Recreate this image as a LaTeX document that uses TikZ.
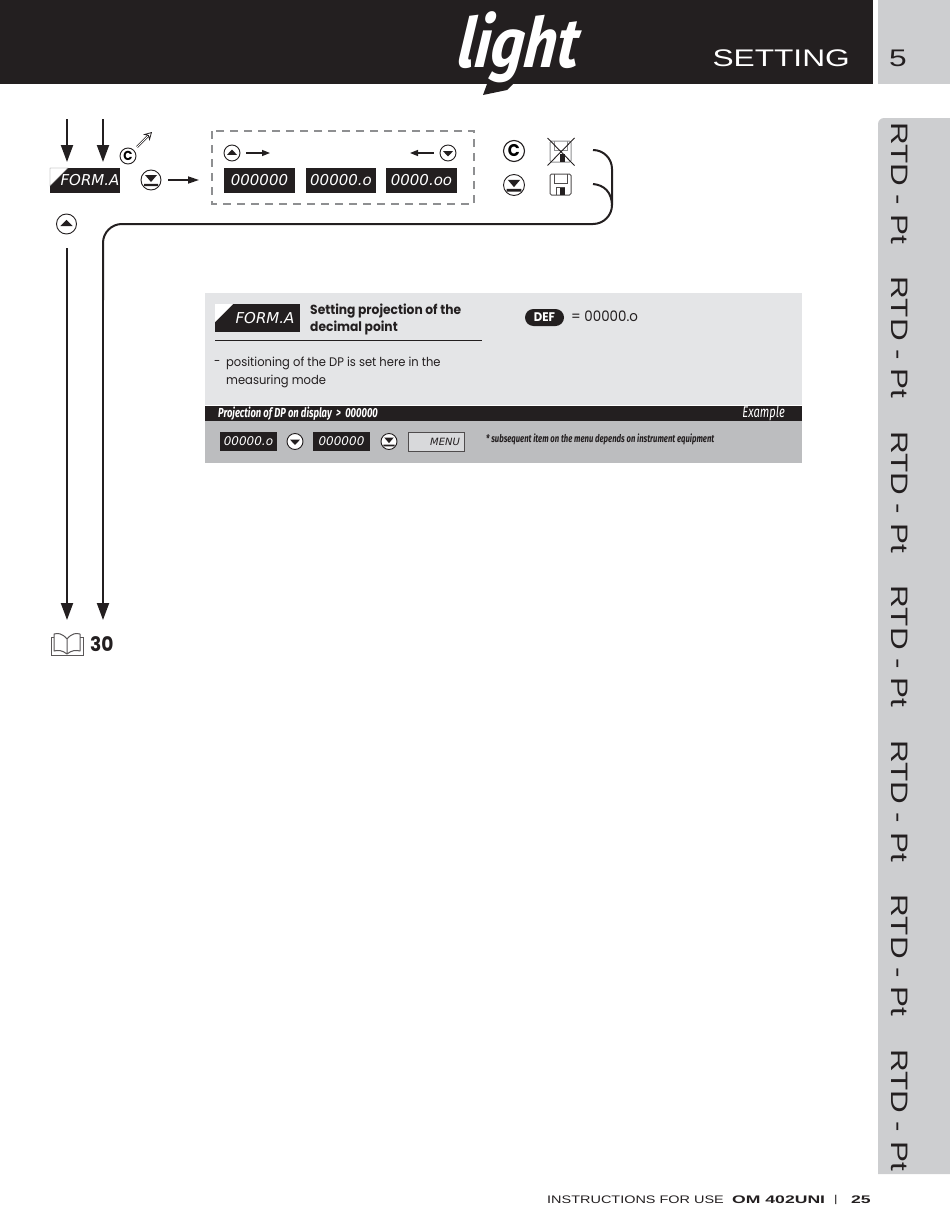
\documentclass[tikz,border=0pt]{standalone}
\usepackage{xcolor}
\usepackage{fontspec}
\usepackage{tikz}
\usetikzlibrary{arrows.meta,positioning,calc}
\setmainfont[FakeStretch=0.93]{Poppins}
\newfontfamily\widefont[FakeStretch=1.32]{Liberation Sans}
\newfontfamily\extrafont[FakeStretch=1.6]{Liberation Sans}
\newfontfamily\lcdfont{DejaVu Sans}
\newfontfamily\narrowfont[FakeStretch=0.72]{Fira Sans}
\newfontfamily\logofont[FakeStretch=0.84,FakeSlant=0.12]{Fira Sans}
\definecolor{lkblack}{HTML}{231F20}
\definecolor{lkpanel}{HTML}{E4E5E7}
\definecolor{lkstrip}{HTML}{BCBDBF}
\definecolor{lktab}{HTML}{CDCED0}
\definecolor{lkdash}{HTML}{8E8F91}
\tikzset{
  flow/.style={draw=lkblack,line width=2pt,-{Triangle[length=17pt,width=12pt]}},
  shortflow/.style={draw=lkblack,line width=1.4pt,-{Triangle[length=8pt,width=6pt]}},
  bus/.style={draw=lkblack,line width=2pt,rounded corners=19pt},
  lcd/.style={fill=lkblack,text=white,inner sep=0pt,minimum width=#1,minimum height=25pt,font=\lcdfont\itshape\fontsize{15}{15}\selectfont},
  lcdsmall/.style={fill=lkblack,text=white,inner sep=0pt,minimum width=57pt,minimum height=19pt,font=\lcdfont\itshape\fontsize{12}{12}\selectfont},
  btn/.style={circle,draw=lkblack,fill=white,line width=0.9pt,inner sep=0pt,minimum size=2*#1},
  btnup/.style={btn=#1,path picture={\fill[lkblack,shift={(path picture bounding box.center)},x=#1pt,y=-#1pt]
      (-.62,.22) -- (0,-.42) -- (.62,.22) -- cycle;}},
  btndown/.style={btn=#1,path picture={\fill[lkblack,shift={(path picture bounding box.center)},x=#1pt,y=-#1pt]
      (-.62,-.22) -- (0,.42) -- (.62,-.22) -- cycle;}},
  btnenter/.style={btn=#1,path picture={\fill[lkblack,shift={(path picture bounding box.center)},x=#1pt,y=-#1pt]
      (-.6,-.5) -- (.6,-.5) -- (0,.2) -- cycle (-.7,.38) rectangle (.7,.62);}},
  btnsmallc/.style={btn=8,font=\bfseries\fontsize{13}{13}\selectfont},
  btnbigc/.style={btn=10.5,line width=1.1pt,font=\bfseries\fontsize{17}{17}\selectfont},
  plain/.style={text=lkblack,inner sep=0pt,anchor=west},
  corner/.style={fill=white,draw=lkblack!60,line width=0.4pt},
}
\begin{document}
\begin{tikzpicture}[x=1pt,y=-1pt]
\useasboundingbox (0,0) rectangle (950,1231);
\fill[lkblack] (0,0) rectangle (873,84);
\fill[lktab] (878,0) rectangle (950,84);
\fill[lktab] (950,118) -- (884,118) to[out=180,in=90] (878,124) -- (878,1174) -- (950,1174) -- cycle;
\fill[lkblack] (487,84) -- (483,95) -- (507,90) -- (513,84) -- cycle;
\node[text=white,inner sep=0pt,font=\logofont\bfseries\itshape\fontsize{69}{69}\selectfont] (logo) at (517,47) {light};
\node[text=white,inner sep=0pt,anchor=east,font=\widefont\fontsize{24}{24}\selectfont] (title) at (850,58) {SETTING};
\node[text=lkblack,inner sep=0pt,font=\widefont\fontsize{24}{24}\selectfont] (chapter) at (898,58) {5};
\foreach \k in {0,...,6} {
  \node[text=lkblack,inner sep=0pt,rotate=-90,anchor=west,font=\widefont\fontsize{23.8}{23.8}\selectfont] (tab\k) at (900,122+154.5*\k) {RTD - Pt};
}

\coordinate (inleft) at (67,119);
\coordinate (inright) at (103,119);
\coordinate (inlefttip) at (67,162);
\coordinate (inrighttip) at (103,162);
\draw[flow] (inleft) -- (inlefttip);
\draw[flow] (inright) -- (inrighttip);

\node[lcd=70pt] (form) at (85,180.5) {\hspace*{10pt}FORM.A};
\fill[corner] (50,168) -- (68,168) -- (50,186) -- cycle;
\node[btnsmallc] (esc) at (128,156) {C};
\coordinate (escfrom) at (137,147);
\coordinate (escto) at (152,132);
\draw[lkblack,double,double distance=1pt,line width=0.6pt,-{Stealth[open,length=8pt,width=9pt,line width=0.8pt]}] (escfrom) -- (escto);
\node[btnenter=10] (enter) at (151,180) {};
\coordinate (enterto) at (199,180);
\draw[shortflow,line width=1.7pt,-{Triangle[length=11pt,width=7pt]}] (enter.east) ++(7,0) -- (enterto);
\node[btnup=10] (up) at (66.5,224) {};

\draw[lkdash,line width=1.6pt,dash pattern=on 8pt off 6pt] (212,131) rectangle (474,204);
\node[btnup=8] (upsmall) at (232,153) {};
\node[btndown=8] (downsmall) at (448,153) {};
\coordinate (upto) at (270,153);
\coordinate (downto) at (410,153);
\draw[shortflow] (upsmall.east) ++(6,0) -- (upto);
\draw[shortflow] (downsmall.west) ++(-6,0) -- (downto);
\node[lcd=71pt] (lcdzero) at (259.5,180.5) {000000};
\node[lcd=70pt] (lcdone) at (341,180.5) {00000.o};
\node[lcd=71pt] (lcdtwo) at (421.5,180.5) {0000.oo};

\node[btnbigc] (escbig) at (514,151) {C};
\node[btnenter=10.5] (enterbig) at (514,185) {};

\begin{scope}[shift={(550,174)}]
  \draw[lkblack!80,line width=1pt,rounded corners=1.5pt] (0,0) rectangle (21,21);
  \draw[lkblack!80,line width=1pt] (4,0) -- (4,9) -- (17,9) -- (17,0);
  \fill[lkblack] (9.5,13) rectangle (15,21);
  \draw[lkblack!80,line width=0.6pt] (6,21) -- (6,13) -- (15,13);
\end{scope}
\begin{scope}[shift={(550,141)}]
  \draw[lkdash,line width=1pt,rounded corners=1.5pt] (0,0) rectangle (21,21);
  \draw[lkdash,line width=1pt] (4,0) -- (4,9) -- (17,9) -- (17,0);
  \fill[lkblack] (9.5,13) rectangle (15,21);
  \draw[lkblack,line width=0.9pt] (-2.5,-3) -- (24.5,24.5) (24.5,-3) -- (-2.5,24.5);
\end{scope}

\coordinate (keepstart) at (593,150);
\coordinate (savestart) at (593,184);
\coordinate (busbend) at (612,206);
\coordinate (leftstart) at (67,248);
\coordinate (lefttip) at (67,620);
\coordinate (busend) at (103,300);
\coordinate (righttip) at (103,620);
\draw[bus] (keepstart) -- (612,150) -- (612,224) -- (103,224) -- (busend);
\draw[draw=lkblack,line width=2pt] (savestart) .. controls (604,185) and (612,192) .. (busbend);
\draw[flow] (busend) -- (righttip);
\draw[flow] (leftstart) -- (lefttip);

\begin{scope}[shift={(51,633)}]
  \draw[lkblack!75,line width=1pt,fill=white,line join=round] (16,6) .. controls (11,0) and (7,0) .. (3,1) -- (3,18) .. controls (7,17) and (11,17) .. (16,21) .. controls (21,17) and (25,17) .. (29,18) -- (29,1) .. controls (25,0) and (21,0) .. (16,6) -- (16,21);
  \draw[lkblack!75,line width=1pt] (3,4) -- (0,4) -- (0,22.5) -- (32,22.5) -- (32,4) -- (29,4);
\end{scope}
\node[plain,font=\bfseries\fontsize{20}{20}\selectfont] (pageref) at (90,644.5) {30};

\fill[lkpanel] (205,293) rectangle (802,405);
\fill[lkblack] (205,406) rectangle (802,421);
\fill[lkstrip] (205,421) rectangle (802,462.5);
\node[lcd=85pt,minimum height=28pt] (formhead) at (257.5,318) {\hspace*{15pt}FORM.A};
\fill[corner,draw=none] (215,304) -- (233,304) -- (215,322) -- cycle;
\node[plain,font=\bfseries\fontsize{13.2}{13.2}\selectfont] (headone) at (310,311) {Setting projection of the};
\node[plain,font=\bfseries\fontsize{13.2}{13.2}\selectfont] (headtwo) at (310,328) {decimal point};
\coordinate (rulefrom) at (215,340);
\coordinate (ruleto) at (482,340);
\draw[lkblack,line width=0.7pt] (rulefrom) -- (ruleto);
\node[plain,font=\fontsize{12.4}{12.4}\selectfont] (dash) at (214,363) {-};
\node[plain,font=\fontsize{12.4}{12.4}\selectfont] (bodyone) at (226,363) {positioning of the DP is set here in the};
\node[plain,font=\fontsize{12.4}{12.4}\selectfont] (bodytwo) at (226,381) {measuring mode};
\node[fill=lkblack,text=white,rounded corners=8.5pt,inner sep=0pt,minimum width=39pt,minimum height=17pt,font=\bfseries\fontsize{12.5}{12.5}\selectfont] (def) at (544.5,317.5) {DEF};
\node[plain,font=\fontsize{14.4}{14.4}\selectfont] (defval) at (571,316.5) {= 00000.o};

\node[inner sep=0pt,anchor=west,text=white,font=\narrowfont\bfseries\itshape\fontsize{13.1}{13.1}\selectfont] (striptitle) at (218,413.5) {Projection of DP on display \,>\, 000000};
\node[inner sep=0pt,anchor=east,text=white,font=\narrowfont\itshape\fontsize{15.5}{15.5}\selectfont] (example) at (785,413.5) {Example};
\node[lcdsmall] (stepone) at (248.5,441.5) {00000.o};
\node[btndown=8] (stepdown) at (295,441.5) {};
\node[lcdsmall] (steptwo) at (341.5,441.5) {000000};
\node[btnenter=8] (stepenter) at (389,441.5) {};
\node[draw=lkblack!80,fill=lkpanel!70!lkstrip,line width=0.7pt,text=lkblack,inner sep=0pt,minimum width=56pt,minimum height=19pt,font=\lcdfont\itshape\fontsize{10}{10}\selectfont] (stepmenu) at (436,441.5) {\hspace*{18pt}MENU};
\node[plain,font=\narrowfont\bfseries\itshape\fontsize{10.7}{10.7}\selectfont] (note) at (486,439.5) {* subsequent item on the menu depends on instrument equipment};

\node[plain,font=\widefont\fontsize{10.95}{10.95}\selectfont] (footone) at (547,1199.5) {INSTRUCTIONS FOR USE};
\node[plain,font=\extrafont\bfseries\fontsize{11}{11}\selectfont] (foottwo) at (732,1199.5) {OM 402UNI};
\node[plain,font=\widefont\fontsize{10}{10}\selectfont] (footbar) at (834,1199.5) {|};
\node[plain,font=\extrafont\bfseries\fontsize{11}{11}\selectfont] (footpage) at (851,1199.5) {25};
\end{tikzpicture}
\end{document}
